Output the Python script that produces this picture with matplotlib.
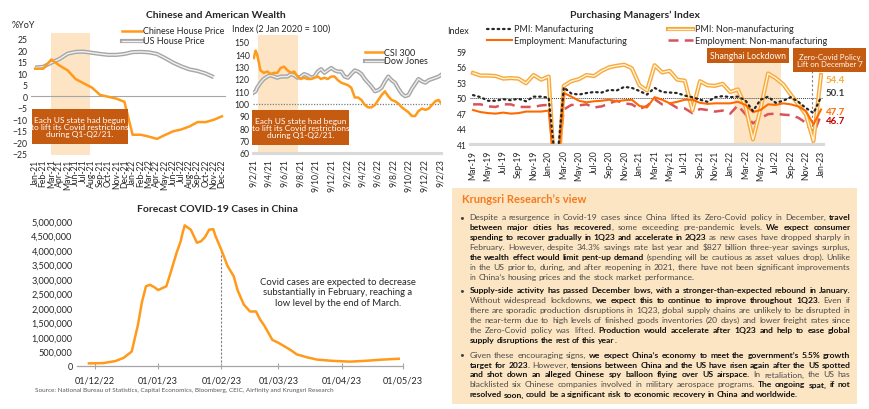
import numpy as np
import pandas as pd
import matplotlib
matplotlib.use("Agg")
import matplotlib.pyplot as plt
from matplotlib.patches import Rectangle
from matplotlib.lines import Line2D
from matplotlib.font_manager import FontProperties
from matplotlib.ticker import FuncFormatter

FONT = "Lato"
plt.rcParams['font.family'] = [FONT, 'DejaVu Sans']

# ---------------- data ----------------
# Chinese and American house prices, %YoY, Jan-21 .. Dec-22
house_months = list(pd.date_range('2021-01-01', '2022-12-01', freq='MS').strftime('%b-%y'))
cn_house = [12.0, 12.0, 16.0, 13.4, 11.3, 7.5, 5.6, 3.8, 0.6, -0.2, -1.0, -2.4,
            -16.7, -16.7, -17.5, -18.5, -16.8, -15.2, -14.4, -13.1, -11.2, -11.2, -10.2, -8.7]
us_house = [12.5, 12.8, 14.6, 16.2, 18.5, 19.3, 19.4, 18.9, 18.4, 18.0, 18.0, 18.4,
            19.2, 19.3, 19.1, 18.4, 16.6, 14.6, 13.0, 11.7, 11.0, 9.9, 8.3, np.nan]

# stock indices (2 Jan 2020 = 100)
stock_dates = ['2021-02-09', '2021-02-16', '2021-02-22', '2021-03-07', '2021-03-20', '2021-04-03',
               '2021-04-16', '2021-04-29', '2021-05-12', '2021-05-25', '2021-06-07', '2021-06-21',
               '2021-07-04', '2021-07-17', '2021-07-30', '2021-08-12', '2021-08-25', '2021-09-07',
               '2021-09-21', '2021-10-04', '2021-10-17', '2021-10-30', '2021-11-12', '2021-11-25',
               '2021-12-09', '2021-12-22', '2022-01-04', '2022-01-17', '2022-01-30', '2022-02-12',
               '2022-02-25', '2022-03-11', '2022-03-24', '2022-04-06', '2022-04-19', '2022-05-02',
               '2022-05-15', '2022-05-29', '2022-06-11', '2022-06-24', '2022-07-07', '2022-07-20',
               '2022-08-02', '2022-08-15', '2022-08-29', '2022-09-11', '2022-09-24', '2022-10-07',
               '2022-10-20', '2022-11-02', '2022-11-15', '2022-11-29', '2022-12-12', '2022-12-25',
               '2023-01-07', '2023-01-20', '2023-02-02', '2023-02-09']
csi300 = [137, 143, 140, 127, 125, 126, 124, 125, 125, 129, 130, 127,
          125, 126, 122, 120, 121, 120, 120, 121, 122, 120, 121, 120,
          122, 122, 119, 117, 116, 115, 113, 105, 105, 103, 99, 97,
          97, 99, 103, 107, 110, 106, 103, 102, 100, 97, 95, 93,
          90, 90, 94, 96, 95, 96, 99, 102, 103, 101]
dow_jones = [109, 110, 113, 117, 120, 122, 123, 122, 121, 122, 122, 122,
             124, 123, 121, 122, 124, 123, 121, 122, 126, 128, 125, 127,
             129, 127, 126, 126, 122, 121, 124, 127, 126, 124, 120, 117,
             114, 110, 111, 113, 118, 122, 119, 117, 112, 108, 106, 107,
             112, 116, 120, 118, 117, 119, 120, 121, 122, 123]

# PMI, Mar-19 .. Jan-23
pmi_months = list(pd.date_range('2019-03-01', '2023-01-01', freq='MS').strftime('%b-%y'))
pmi_mfg = [50.5, 50.1, 49.4, 49.4, 49.7, 49.5, 49.8, 49.3, 50.2, 50.2,
           50.0, 35.7, 52.0, 50.8, 50.6, 50.9, 51.1, 51.0, 51.5, 51.4, 52.1, 51.9,
           51.3, 50.6, 51.9, 51.1, 51.0, 50.9, 50.4, 50.1, 49.6, 49.2, 50.1, 50.3,
           50.1, 50.2, 49.5, 47.4, 49.6, 50.2, 49.0, 49.4, 50.1, 49.2, 48.0, 47.0,
           50.1]
pmi_nonmfg = [54.8, 54.3, 54.3, 54.2, 53.7, 53.8, 53.7, 52.8, 54.4, 53.5,
              54.1, 29.6, 52.3, 53.2, 53.6, 54.4, 54.2, 55.2, 55.9, 56.2, 56.4, 55.7,
              52.4, 51.4, 56.3, 54.9, 55.2, 53.5, 53.3, 47.5, 53.2, 52.4, 52.3, 52.7,
              51.1, 51.6, 48.4, 41.9, 47.8, 54.7, 53.8, 52.6, 50.6, 48.7, 46.7, 41.6,
              54.4]
emp_mfg = [47.6, 47.2, 47.0, 46.9, 47.1, 46.9, 47.0, 47.3, 47.3, 47.3,
           47.5, 31.8, 50.9, 50.2, 49.4, 49.1, 49.3, 49.4, 49.6, 49.3, 49.5, 49.6,
           48.4, 48.1, 50.1, 49.6, 48.9, 49.2, 49.6, 49.6, 49.0, 48.8, 48.9, 48.9,
           48.9, 49.2, 48.6, 47.2, 47.6, 48.7, 48.6, 48.9, 48.7, 48.3, 47.4, 44.8,
           47.7]
emp_nonmfg = [48.7, 48.7, 48.3, 48.2, 48.7, 48.7, 48.2, 48.2, 48.2, 48.5,
              48.6, 35.3, 47.7, 48.6, 48.5, 48.7, 48.1, 48.3, 48.9, 49.4, 48.9, 48.7,
              47.8, 48.4, 49.7, 48.7, 48.9, 48.0, 47.9, 47.0, 47.8, 47.6, 47.3, 47.5,
              46.9, 48.5, 46.8, 45.0, 46.0, 46.8, 46.9, 46.7, 46.6, 46.1, 45.1, 42.9,
              46.7]

# forecast covid-19 cases in China
covid_dates = ['2022-11-28', '2022-12-05', '2022-12-11', '2022-12-15', '2022-12-19', '2022-12-22',
               '2022-12-24', '2022-12-26', '2022-12-28', '2022-12-30', '2023-01-01', '2023-01-05',
               '2023-01-07', '2023-01-10', '2023-01-12', '2023-01-13', '2023-01-14', '2023-01-17',
               '2023-01-18', '2023-01-20', '2023-01-22', '2023-01-24', '2023-01-26', '2023-01-28',
               '2023-01-29', '2023-02-01', '2023-02-04', '2023-02-07', '2023-02-09', '2023-02-12',
               '2023-02-15', '2023-02-18', '2023-02-20', '2023-02-22', '2023-02-26', '2023-03-01',
               '2023-03-07', '2023-03-10', '2023-03-15', '2023-03-20', '2023-03-27', '2023-04-05',
               '2023-04-13', '2023-04-21', '2023-04-29']
covid_cases = [90e3, 100e3, 170e3, 280e3, 500e3, 1.4e6,
               2.2e6, 2.75e6, 2.8e6, 2.72e6, 2.62e6, 2.75e6,
               3.2e6, 3.9e6, 4.3e6, 4.6e6, 4.85e6, 4.7e6,
               4.55e6, 4.25e6, 4.3e6, 4.45e6, 4.7e6, 4.72e6,
               4.5e6, 4.0e6, 3.45e6, 3.1e6, 2.6e6, 2.12e6,
               1.88e6, 1.88e6, 1.6e6, 1.4e6, 0.9e6, 0.8e6,
               0.55e6, 0.4e6, 0.3e6, 0.22e6, 0.18e6, 0.15e6,
               0.18e6, 0.22e6, 0.25e6]

# ---------------- style ----------------
W, H = 870, 410
ORANGE = '#FF9A1A'
GREY = '#A6A6A6'
SHADE = '#FCE4C4'
BROWN = '#C55A11'
TXT = '#262626'
TICK_FS = 6.2


def fx(x):
    return x / W


def fy(y):
    return 1 - y / H


def box(l, t, r, b):
    return [fx(l), fy(b), (r - l) / W, (b - t) / H]


def clean(ax):
    for s in ax.spines.values():
        s.set_visible(False)
    ax.tick_params(length=0, labelsize=TICK_FS, colors=TXT, pad=2.5)
    ax.set_facecolor('none')


def legend_line(x0, x1, y, color, lw, **kw):
    fig.add_artist(Line2D([fx(x0), fx(x1)], [fy(y), fy(y)], color=color, lw=lw,
                          transform=fig.transFigure, **kw))


def ftext(x, y, s, **kw):
    kw.setdefault('fontsize', 6.5)
    kw.setdefault('color', TXT)
    kw.setdefault('va', 'center')
    return fig.text(fx(x), fy(y), s, **kw)


def label_box(l, t, r, b, s, fs=6.3):
    fig.add_artist(Rectangle((fx(l), fy(b)), (r - l) / W, (b - t) / H, facecolor=BROWN,
                             edgecolor='none', transform=fig.transFigure, zorder=5))
    fig.text(fx((l + r) / 2), fy((t + b) / 2), s, color='white', fontsize=fs, ha='center',
             va='center', linespacing=1.05, zorder=6)


fig = plt.figure(figsize=(W / 100, H / 100), dpi=100)

# ---------------- chart 1: house prices ----------------
ax1 = fig.add_axes(box(31, 34, 226, 156))
clean(ax1)
xh = np.arange(len(house_months))
ax1.axvspan(2.0, 6.8, color=SHADE, zorder=0, lw=0)
ax1.axhline(0, color=GREY, lw=0.8, zorder=1)
ax1.plot(xh, us_house, color=GREY, lw=3.0, zorder=2, solid_capstyle='butt')
ax1.plot(xh, us_house, color='#F2F2F2', lw=1.0, zorder=3)
ax1.plot(xh, cn_house, color=ORANGE, lw=1.8, zorder=4)
ax1.set_xlim(-0.5, len(house_months) - 0.5)
ax1.set_ylim(-25.5, 27.5)
ax1.set_yticks(np.arange(-25, 26, 5))
ax1.set_xticks(xh)
ax1.set_xticklabels(house_months, rotation=90)

ftext(12, 25, '%YoY')
legend_line(122, 142, 32, ORANGE, 1.8)
ftext(143, 32, 'Chinese House Price')
legend_line(122, 142, 42, GREY, 3.0)
legend_line(122, 142, 42, '#F2F2F2', 1.0)
ftext(143, 42, 'US House Price')
label_box(32, 110, 128, 145, 'Each US state had begun\nto lift its Covid restrictions\nduring Q1-Q2/21.', fs=6.0)

# ---------------- chart 2: stock indices ----------------
ax2 = fig.add_axes(box(253.3, 35.6, 440.7, 154))
clean(ax2)
sd = pd.to_datetime(stock_dates)
ax2.axvspan(pd.Timestamp('2021-02-27'), pd.Timestamp('2021-07-31'), color=SHADE, zorder=0, lw=0)
ax2.axhline(100, color='#7F7F7F', lw=0.9, ls=(0, (1, 1.2)), zorder=1)
ax2.axhline(60, color='#D9D9D9', lw=2.2, zorder=1, clip_on=False)
ax2.plot(sd, dow_jones, color=GREY, lw=3.0, zorder=2)
ax2.plot(sd, dow_jones, color='#EDEDED', lw=1.0, zorder=3)
ax2.plot(sd, csi300, color=ORANGE, lw=1.8, zorder=4)
ax2.set_xlim(pd.Timestamp('2021-02-07'), pd.Timestamp('2023-02-10'))
ax2.set_ylim(60, 156)
ax2.set_yticks(np.arange(60, 151, 10))
stock_ticks = [pd.Timestamp('2021-02-09') + pd.DateOffset(months=2 * i) for i in range(13)]
ax2.set_xticks(stock_ticks)
ax2.set_xticklabels([f"{d.day}/{d.month}/{d:%y}" for d in stock_ticks], rotation=90)
ax2.tick_params(axis='x', pad=4)

ftext(232, 29, 'Index (2 Jan 2020 = 100)')
legend_line(365, 383, 53, ORANGE, 1.8)
ftext(384, 53, 'CSI 300')
legend_line(365, 383, 62, GREY, 3.0)
legend_line(365, 383, 62, '#EDEDED', 1.0)
ftext(384, 62, 'Dow Jones')
label_box(252, 111, 349, 146, 'Each US state had begun\nto lift its Covid restrictions\nduring Q1-Q2/21.', fs=6.0)

ftext(216, 15, 'Chinese and American Wealth', fontsize=7.5, fontweight='bold', ha='center')

# ---------------- chart 3: PMI ----------------
ax3 = fig.add_axes(box(470, 47.2, 823.3, 145))
clean(ax3)
xp = np.arange(len(pmi_months))
C_NON = '#F9A93A'
C_EMP = '#FF6A00'
C_EMPN = '#D9545A'
ax3.fill_between([34.5, 40.7], 40, 58.4, color=SHADE, lw=0, zorder=0)
ax3.axhline(50, color='#404040', lw=0.7, ls=(0, (1, 1)), zorder=1)
ax3.vlines(44.8, 41, 55.3, color='#7F7F7F', lw=0.8, ls=(0, (2, 2)), zorder=1)
ax3.plot(xp, emp_nonmfg, color=C_EMPN, lw=1.8, dashes=(4, 2.5), zorder=2)
ax3.plot(xp, pmi_nonmfg, color=C_NON, lw=3.0, zorder=3)
ax3.plot(xp, pmi_nonmfg, color='#FFF4DC', lw=1.0, zorder=4)
ax3.plot(xp, emp_mfg, color=C_EMP, lw=1.5, zorder=5)
ax3.plot(xp, pmi_mfg, color='#262626', lw=1.6, ls=(0, (0.7, 1.7)), dash_capstyle='round', zorder=6)
ax3.spines['bottom'].set_visible(True)
ax3.spines['bottom'].set_color('#D9D9D9')
ax3.spines['bottom'].set_linewidth(2.2)
ax3.set_xlim(-0.4, 46.3)
ax3.set_ylim(41, 60)
ax3.set_yticks(np.arange(41, 60, 3))
ax3.set_xticks(xp[::2])
ax3.set_xticklabels(pmi_months[::2], rotation=90)
ax3.tick_params(axis='x', pad=4)

end_labels = [(pmi_nonmfg[-1], C_NON, -4.7), (pmi_mfg[-1], '#404040', 4.2),
              (emp_mfg[-1], C_EMP, -1.8), (emp_nonmfg[-1], '#C00000', -6.0)]
for val, col, dy in end_labels:
    ax3.annotate(f"{val:.1f}", xy=(xp[-1], val), xytext=(5, dy), textcoords='offset pixels',
                 color=col, fontsize=7, fontweight='bold', ha='left', va='center', annotation_clip=False)

ftext(635, 15, 'Purchasing Managers\u2019 Index', fontsize=7.5, fontweight='bold', ha='center')
ftext(447, 32, 'Index')
legend_line(487, 512, 30, '#262626', 1.6, ls=(0, (0.7, 1.7)), dash_capstyle='round')
ftext(514, 30, 'PMI: Manufacturing')
legend_line(668, 693, 30, C_NON, 3.0)
legend_line(668, 693, 30, '#FFF4DC', 1.0)
ftext(695, 30, 'PMI: Non-manufacturing')
legend_line(487, 512, 41, C_EMP, 1.5)
ftext(514, 41, 'Employment: Manufacturing')
legend_line(668, 693, 41, C_EMPN, 1.8, dashes=(4, 2.5))
ftext(695, 41, 'Employment: Non-manufacturing')
label_box(707, 49, 789, 64, 'Shanghai Lockdown', fs=6.2)
label_box(793, 49, 866, 73, 'Zero-Covid Policy\nLift on December 7', fs=5.6)

# ---------------- chart 4: covid forecast ----------------
ax4 = fig.add_axes(box(76.7, 222, 403.3, 367))
clean(ax4)
cd = pd.to_datetime(covid_dates)
feb1 = pd.Timestamp('2023-02-01')
ax4.vlines(feb1, 0, covid_cases[covid_dates.index('2023-02-01')], color='#7F7F7F', lw=0.8,
           ls=(0, (2, 1.5)), zorder=1)
ax4.plot(cd, covid_cases, color=ORANGE, lw=1.8, zorder=3)
ax4.spines['bottom'].set_visible(True)
ax4.spines['bottom'].set_color('#A6A6A6')
ax4.spines['bottom'].set_linewidth(0.9)
ax4.set_xlim(pd.Timestamp('2022-11-22'), pd.Timestamp('2023-05-01 06:00'))
ax4.set_ylim(0, 5e6)
ax4.set_yticks(np.arange(0, 5.0e6 + 1, 5e5))
ax4.yaxis.set_major_formatter(FuncFormatter(lambda v, p: f"{int(v):,}"))
covid_ticks = pd.to_datetime(['2022-12-01', '2023-01-01', '2023-02-01', '2023-03-01', '2023-04-01', '2023-05-01'])
ax4.set_xticks(covid_ticks)
ax4.set_xticklabels([d.strftime('%d/%m/%y') for d in covid_ticks])
ax4.tick_params(labelsize=6.6, pad=3)
ax4.tick_params(axis='x', length=4, direction='inout', color='#A6A6A6', width=0.8, pad=5)

ftext(217, 210, 'Forecast COVID-19 Cases in China', fontsize=7.5, fontweight='bold', ha='center')
ftext(338, 293, 'Covid cases are expected to decrease\nsubstantially in February, reaching a\nlow level by the end of March.',
      ha='center', fontsize=6.8, linespacing=1.25)
ftext(35, 391, 'Source: National Bureau of Statistics, Capital Economics, Bloomberg, CEIC, Airfinity and Krungsri Research',
      fontsize=4.6, color='#595959')

# ---------------- Krungsri Research's view ----------------
fig.add_artist(Rectangle((fx(452), fy(405)), 405 / W, 216 / H, facecolor='#FCE5C3',
                         edgecolor='none', transform=fig.transFigure, zorder=0))
ftext(462, 200, 'Krungsri Research\u2019s view', fontsize=8, fontweight='bold', color='#F47B20')

B, N = True, False
bullet_1 = [
    [(N, "Despite a resurgence in Covid-19 cases since China lifted its Zero-Covid policy in December, "), (B, "travel")],
    [(B, "between major cities has recovered"), (N, ", some exceeding pre-pandemic levels. "), (B, "We expect consumer")],
    [(B, "spending to recover gradually in 1Q23 and accelerate in 2Q23"), (N, " as new cases have dropped sharply in")],
    [(N, "February. However, despite 34.3% savings rate last year and $827 billion three-year savings surplus,")],
    [(B, "the wealth effect would limit pent-up demand"), (N, " (spending will be cautious as asset values drop). Unlike")],
    [(N, "in the US prior to, during, and after reopening in 2021, there have not been significant improvements")],
    [(N, "in China\u2019s housing prices and the stock market performance.")],
]
bullet_2 = [
    [(B, "Supply-side activity has passed December lows, with a stronger-than-expected rebound in January.")],
    [(N, "Without widespread lockdowns, "), (B, "we expect this to continue to improve throughout 1Q23."), (N, " Even if")],
    [(N, "there are sporadic production disruptions in 1Q23, global supply chains are unlikely to be disrupted in")],
    [(N, "the near-term due to high levels of finished goods inventories (20 days) and lower freight rates since")],
    [(N, "the Zero-Covid policy was lifted. "), (B, "Production would accelerate after 1Q23 and help to ease global")],
    [(B, "supply disruptions the rest of this year"), (N, ".")],
]
bullet_3 = [
    [(N, "Given these encouraging signs, "), (B, "we expect China\u2019s economy to meet the government\u2019s 5.5% growth")],
    [(B, "target for 2023"), (N, ". However, "), (B, "tensions between China and the US have risen again after the US spotted")],
    [(B, "and shot down an alleged Chinese spy balloon flying over US airspace."), (N, " In retaliation, the US has")],
    [(N, "blacklisted six Chinese companies involved in military aerospace programs. "), (B, "The ongoing spat, if not")],
    [(B, "resolved soon, could be a significant risk to economic recovery in China and worldwide.")],
]
paragraphs = [(bullet_1, 217.3), (bullet_2, 290.5), (bullet_3, 355.0)]

renderer = fig.canvas.get_renderer()


def props(bold, size):
    return FontProperties(family=FONT, weight='bold' if bold else 'normal', size=size)


def width(s, bold, size):
    return renderer.get_text_width_height_descent(s, props(bold, size), ismath=False)[0]


def split_words(segs):
    words = [[]]
    for bold, text in segs:
        for i, p in enumerate(text.split(' ')):
            if i > 0:
                words.append([])
            if p:
                words[-1].append((p, bold))
    return [w for w in words if w]


def word_w(word, size):
    return sum(width(p, b, size) for p, b in word)


TL, TR = 469.5, 850.5
base = 6.5
natural = []
for para, _ in paragraphs:
    for seg in para[:-1]:
        ws = split_words(seg)
        natural.append(sum(word_w(w, base) for w in ws) + width(' ', False, base) * (len(ws) - 1))
fs = base * (TR - TL) * 0.985 / max(natural)

STEP = 9.95
for para, y0 in paragraphs:
    ftext(459.5, y0, '\u2022', fontsize=6, color='#404040')
    for li, seg in enumerate(para):
        y = y0 + li * STEP
        ws = split_words(seg)
        wsum = [word_w(w, fs) for w in ws]
        if li < len(para) - 1 and len(ws) > 1:
            gap = (TR - TL - sum(wsum)) / (len(ws) - 1)
        else:
            gap = width(' ', False, fs)
        x = TL
        for w, ww in zip(ws, wsum):
            xx = x
            for p, b in w:
                fig.text(fx(xx), fy(y + 2.6), p, fontproperties=props(b, fs),
                         color='#111111' if b else '#4A4A4A', va='baseline', ha='left')
                xx += width(p, b, fs)
            x += ww + gap

fig.savefig('out.png', dpi=100)
